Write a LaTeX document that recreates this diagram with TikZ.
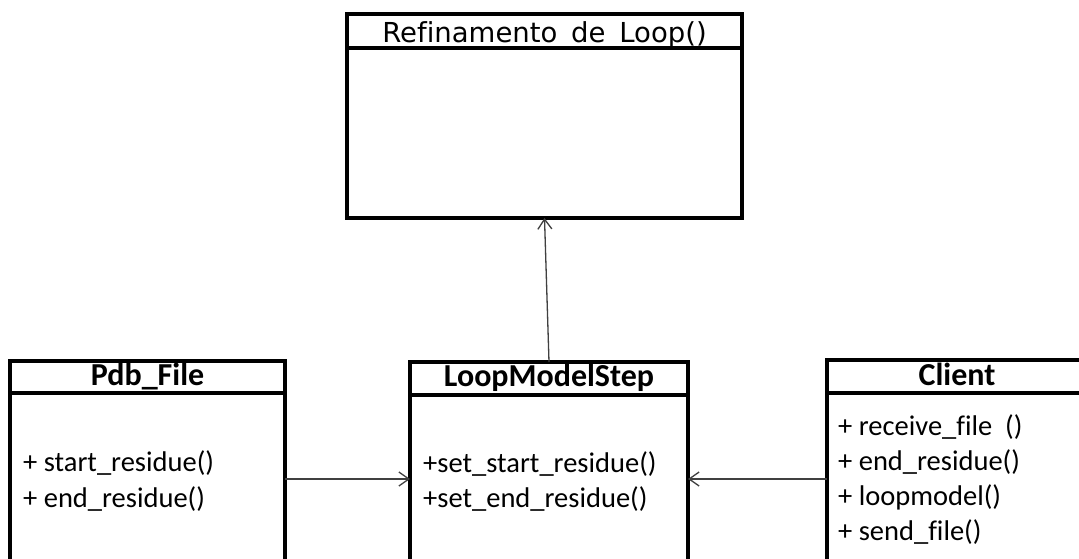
\documentclass[tikz,border=0pt]{standalone}
\usepackage{fontspec}
\setmainfont[Ligatures=NoCommon]{Carlito}
\newfontfamily\dejavu[Ligatures=NoCommon]{DejaVu Sans}
\usetikzlibrary{arrows.meta}
\tikzset{
  classbox/.style={draw=black, line width=3.5pt, rectangle, anchor=north west, inner sep=0pt, outer sep=0pt},
  divider/.style={draw=black, line width=3.5pt},
  titletext/.style={anchor=base, inner sep=0pt, font=\fontsize{32}{36}\selectfont\bfseries},
  reftitle/.style={anchor=base, inner sep=0pt, font=\dejavu\fontsize{27.5}{32}\selectfont},
  member/.style={anchor=base west, inner sep=0pt, font=\fontsize{28.5}{32}\selectfont},
  conn/.style={draw=black!75, line width=1.3pt, -{Straight Barb[length=10pt,width=14pt,line width=1.3pt]}}
}
\begin{document}
\begin{tikzpicture}[x=1pt,y=-1pt]
\clip (0,0) rectangle (1079,558);
\fill[white] (0,0) rectangle (1079,558);
% Refinamento box
\node[classbox, minimum width=395pt, minimum height=204pt] (ref) at (347,14) {};
\draw[divider] (347,48) -- (742,48);
\node[reftitle] (reft) at (544.5,42) {Refinamento\_de\_Loop()};
% Pdb_File box
\node[classbox, minimum width=275pt, minimum height=240pt] (pdb) at (10,361) {};
\draw[divider] (10,393) -- (285,393);
\node[titletext] (pdbt) at (147.5,385) {Pdb\_File};
\node[member] (pdb1) at (23,471) {+ start\_residue()};
\node[member] (pdb2) at (23,507) {+ end\_residue()};
% LoopModelStep box
\node[classbox, minimum width=278pt, minimum height=240pt] (lms) at (410,362) {};
\draw[divider] (410,395) -- (688,395);
\node[titletext] (lmst) at (549,386) {LoopModelStep};
\node[member] (lms1) at (423,472) {+set\_start\_residue()};
\node[member] (lms2) at (423,507) {+set\_end\_residue()};
% Client box
\node[classbox, minimum width=263pt, minimum height=240pt] (cli) at (827,360) {};
\draw[divider] (827,393) -- (1090,393);
\node[titletext] (clit) at (957,385) {Client};
\node[member] (cli1) at (838,435) {+ receive\_file\ \ ()};
\node[member] (cli2) at (838,470) {+ end\_residue()};
\node[member] (cli3) at (838,505) {+ loopmodel()};
\node[member] (cli4) at (838,540) {+ send\_file()};
% connectors
\coordinate (row) at (0,479);
\draw[conn] (lms.north) -- (ref.south);
\draw[conn] (pdb.east |- row) -- (lms.west |- row);
\draw[conn] (cli.west |- row) -- (lms.east |- row);
\end{tikzpicture}
\end{document}
